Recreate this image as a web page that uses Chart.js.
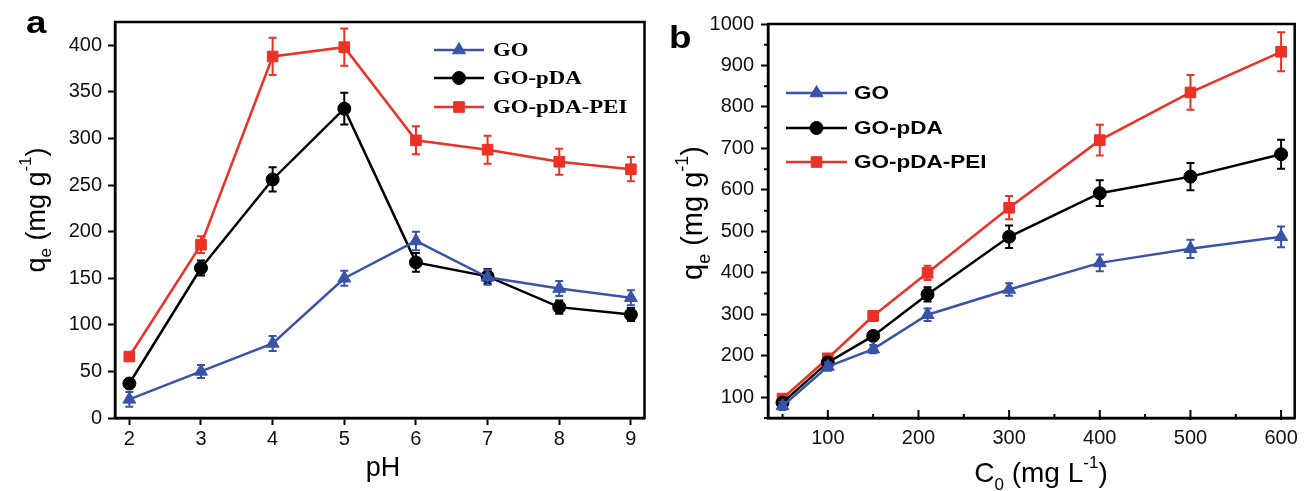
<!DOCTYPE html>
<html lang="en">
<head>
<meta charset="UTF-8">
<title>Adsorption capacity of GO, GO-pDA and GO-pDA-PEI</title>
<style>
  body { margin: 0; background: #fff; }
  #wrap { position: relative; width: 1306px; height: 491px; }
  .panel { position: absolute; top: 0; width: 653px; height: 491px; }
  #boxA { left: 0; }
  #boxB { left: 653px; }
</style>
<script src="https://cdn.jsdelivr.net/npm/chart.js"></script>
</head>
<body>
<div id="wrap">
  <div class="panel" id="boxA"><canvas id="chartA"></canvas></div>
  <div class="panel" id="boxB"><canvas id="chartB"></canvas></div>
</div>
<script>
  // ---- panel a : effect of pH ----
  const phValues = [2, 3, 4, 5, 6, 7, 8, 9];
  const goPH = [20, 50, 80, 150, 190, 151, 139, 129];
  const goPHErr = [8, 7, 8, 8, 10, 8, 8, 8];
  const pdaPH = [37, 161, 256, 332, 167, 152, 119, 111];
  const pdaPHErr = [5, 8, 13, 17, 10, 8, 7, 7];
  const peiPH = [66, 186, 388, 398, 298, 288, 275, 267];
  const peiPHErr = [4, 9, 20, 20, 15, 15, 14, 13];
  const phTicks = [2, 3, 4, 5, 6, 7, 8, 9];
  const qTicksA = [0, 50, 100, 150, 200, 250, 300, 350, 400];

  // ---- panel b : effect of initial concentration ----
  const c0Values = [50, 100, 150, 210, 300, 400, 500, 600];
  const goC0 = [79, 174, 216, 299, 360, 424, 458, 487];
  const goC0Err = [10, 10, 10, 15, 15, 20, 22, 25];
  const pdaC0 = [87, 184, 248, 348, 487, 592, 632, 686];
  const pdaC0Err = [8, 10, 10, 17, 27, 31, 33, 35];
  const peiC0 = [97, 194, 296, 400, 557, 720, 835, 933];
  const peiC0Err = [8, 8, 12, 17, 28, 37, 42, 47];
  const c0Ticks = [100, 200, 300, 400, 500, 600];
  const c0Minor = [50, 150, 250, 350, 450, 550];
  const qTicksB = [100, 200, 300, 400, 500, 600, 700, 800, 900, 1000];
  const qMinorB = [50, 150, 250, 350, 450, 550, 650, 750, 850, 950];

  const seriesNames = ['GO', 'GO-pDA', 'GO-pDA-PEI'];
  const BLUE = '#3953a8';
  const BLACK = '#000000';
  const RED = '#ec3127';
  const SANS = "'Liberation Sans', Arial, sans-serif";
  const SERIF = "'Liberation Serif', 'Times New Roman', serif";

  function pts(xs, ys) {
    return xs.map((x, i) => ({ x: x, y: ys[i] }));
  }

  function ds(label, xs, ys, errs, color, style, radius) {
    return {
      label: label,
      data: pts(xs, ys),
      errors: errs,
      borderColor: color,
      backgroundColor: color,
      borderWidth: 2.5,
      pointStyle: style,
      pointRadius: radius,
      pointHoverRadius: radius,
      pointBorderWidth: 1,
      tension: 0
    };
  }

  // error bars drawn right before each dataset
  const errorBars = {
    id: 'errorBars',
    beforeDatasetDraw(chart, args) {
      const d = chart.data.datasets[args.index];
      if (!d.errors) return;
      const xs = chart.scales.x, ys = chart.scales.y, ctx = chart.ctx;
      ctx.save();
      ctx.strokeStyle = d.borderColor;
      ctx.lineWidth = 2;
      d.data.forEach((p, i) => {
        const e = d.errors[i];
        const px = xs.getPixelForValue(p.x);
        const top = ys.getPixelForValue(p.y + e);
        const bot = ys.getPixelForValue(p.y - e);
        ctx.beginPath();
        ctx.moveTo(px, top); ctx.lineTo(px, bot);
        ctx.moveTo(px - 4, top); ctx.lineTo(px + 4, top);
        ctx.moveTo(px - 4, bot); ctx.lineTo(px + 4, bot);
        ctx.stroke();
      });
      ctx.restore();
    }
  };

  function drawRich(ctx, parts, cx, cy, angle, size, family) {
    ctx.save();
    ctx.translate(cx, cy);
    ctx.rotate(angle);
    ctx.fillStyle = '#000';
    ctx.textBaseline = 'alphabetic';
    ctx.textAlign = 'left';
    let total = 0;
    parts.forEach(p => {
      ctx.font = Math.round((p.s || 1) * size) + 'px ' + family;
      p.w = ctx.measureText(p.t).width;
      total += p.w;
    });
    let x = -total / 2;
    parts.forEach(p => {
      ctx.font = Math.round((p.s || 1) * size) + 'px ' + family;
      ctx.fillText(p.t, x, size * 0.36 + (p.dy || 0) * size);
      x += p.w;
    });
    ctx.restore();
  }

  // frame, minor ticks, legend, titles, panel letter
  const decor = {
    id: 'decor',
    afterDraw(chart, args, o) {
      const ctx = chart.ctx, a = chart.chartArea;
      const xs = chart.scales.x, ys = chart.scales.y;
      ctx.save();
      ctx.strokeStyle = '#000';
      ctx.lineWidth = 2.5;
      ctx.strokeRect(a.left, a.top, a.right - a.left, a.bottom - a.top);

      // minor and inward ticks
      ctx.lineWidth = 2;
      ctx.beginPath();
      (o.yMinor || []).forEach(v => {
        const py = ys.getPixelForValue(v);
        ctx.moveTo(a.left, py); ctx.lineTo(a.left - 4, py);
      });
      (o.xMinor || []).forEach(v => {
        const px = xs.getPixelForValue(v);
        ctx.moveTo(px, a.bottom); ctx.lineTo(px, a.bottom - 4);
      });
      (o.xInward || []).forEach(v => {
        const px = xs.getPixelForValue(v);
        ctx.moveTo(px, a.bottom + 2); ctx.lineTo(px, a.bottom - 8);
      });
      ctx.stroke();

      // legend
      const L = o.legend;
      chart.data.datasets.forEach((d, i) => {
        const y = L.y[i];
        ctx.strokeStyle = d.borderColor;
        ctx.fillStyle = d.borderColor;
        ctx.lineWidth = 2.5;
        ctx.beginPath();
        ctx.moveTo(L.x0, y); ctx.lineTo(L.x1, y);
        ctx.stroke();
        ctx.lineWidth = 1;
        Chart.helpers.drawPoint(ctx, {
          pointStyle: d.pointStyle, radius: d.pointRadius, borderWidth: 1, rotation: 0
        }, (L.x0 + L.x1) / 2, y);
        ctx.save();
        ctx.translate(L.tx, y);
        ctx.scale(L.stretch, 1);
        ctx.fillStyle = '#000';
        ctx.font = 'bold ' + L.size + 'px ' + L.family;
        ctx.textBaseline = 'middle';
        ctx.fillText(d.label, 0, 1);
        ctx.restore();
      });

      // axis titles
      drawRich(ctx, o.yTitle.parts, o.yTitle.x, o.yTitle.y, -Math.PI / 2, o.yTitle.size, SANS);
      drawRich(ctx, o.xTitle.parts, o.xTitle.x, o.xTitle.y, 0, o.xTitle.size, SANS);

      // panel letter
      ctx.save();
      ctx.translate(o.letter.x, o.letter.y);
      ctx.scale(1.15, 1);
      ctx.fillStyle = '#000';
      ctx.font = 'bold 32px ' + SANS;
      ctx.textBaseline = 'alphabetic';
      ctx.fillText(o.letter.t, 0, 0);
      ctx.restore();
      ctx.restore();
    }
  };

  function makeChart(id, datasets, cfg) {
    const tickFont = { family: SANS, size: 20 };
    return new Chart(document.getElementById(id), {
      type: 'line',
      data: { datasets: datasets },
      options: {
        responsive: true,
        maintainAspectRatio: false,
        animation: false,
        events: [],
        layout: { padding: { top: cfg.padTop, right: cfg.padRight, left: 0, bottom: 0 } },
        plugins: {
          legend: { display: false },
          tooltip: { enabled: false },
          decor: cfg.decor
        },
        scales: {
          x: {
            type: 'linear',
            min: cfg.xMin, max: cfg.xMax,
            afterBuildTicks: s => { s.ticks = cfg.xTicks.map(v => ({ value: v })); },
            afterFit: s => { s.height = 73; },
            border: { display: true, color: '#000', width: 2.5 },
            grid: { drawOnChartArea: false, drawTicks: cfg.xTickOut, tickLength: 7, tickWidth: 2, tickColor: '#000' },
            ticks: { font: tickFont, color: '#111', padding: cfg.xTickPad, maxRotation: 0, callback: v => String(v) }
          },
          y: {
            type: 'linear',
            min: cfg.yMin, max: cfg.yMax,
            afterBuildTicks: s => { s.ticks = cfg.yTicks.map(v => ({ value: v })); },
            afterFit: s => { s.width = 115; },
            border: { display: true, color: '#000', width: 2.5 },
            grid: { drawOnChartArea: false, drawTicks: true, tickLength: 7, tickWidth: 2, tickColor: '#000' },
            ticks: { font: tickFont, color: '#111', padding: cfg.yTickPad, callback: v => String(v) }
          }
        }
      },
      plugins: [errorBars, decor]
    });
  }

  makeChart('chartA', [
    ds(seriesNames[0], phValues, goPH, goPHErr, BLUE, 'triangle', 7.5),
    ds(seriesNames[1], phValues, pdaPH, pdaPHErr, BLACK, 'circle', 6.5),
    ds(seriesNames[2], phValues, peiPH, peiPHErr, RED, 'rect', 7.5)
  ], {
    padTop: 22, padRight: 8,
    xMin: 1.8, xMax: 9.19, xTicks: phTicks, xTickOut: true, xTickPad: 2,
    yMin: 0, yMax: 425, yTicks: qTicksA, yTickPad: 6,
    decor: {
      legend: { x0: 434, x1: 484, tx: 493, y: [50, 78, 107], size: 19, stretch: 1.2, family: SERIF },
      yTitle: { x: 35, y: 210, size: 27, parts: [
        { t: 'q' }, { t: 'e', s: 0.62, dy: 0.25 }, { t: ' (mg g' }, { t: '-1', s: 0.62, dy: -0.5 }, { t: ')' }
      ] },
      xTitle: { x: 383, y: 466, size: 27, parts: [{ t: 'pH' }] },
      letter: { t: 'a', x: 26, y: 33 }
    }
  });

  makeChart('chartB', [
    ds(seriesNames[0], c0Values, goC0, goC0Err, BLUE, 'triangle', 7.5),
    ds(seriesNames[1], c0Values, pdaC0, pdaC0Err, BLACK, 'circle', 6.5),
    ds(seriesNames[2], c0Values, peiC0, peiC0Err, RED, 'rect', 7.5)
  ], {
    padTop: 24, padRight: 5,
    xMin: 34, xMax: 615, xTicks: c0Ticks, xTickOut: false, xTickPad: 8,
    yMin: 50, yMax: 1000, yTicks: qTicksB, yTickPad: 7,
    decor: {
      yMinor: qMinorB, xMinor: c0Minor, xInward: c0Ticks,
      legend: { x0: 133, x1: 194, tx: 201, y: [93, 128, 162], size: 18, stretch: 1.25, family: SANS },
      yTitle: { x: 39, y: 213, size: 29, parts: [
        { t: 'q' }, { t: 'e', s: 0.62, dy: 0.25 }, { t: ' (mg g' }, { t: '-1', s: 0.62, dy: -0.5 }, { t: ')' }
      ] },
      xTitle: { x: 388, y: 472, size: 28, parts: [
        { t: 'C' }, { t: '0', s: 0.62, dy: 0.3 }, { t: ' (mg L' }, { t: '-1', s: 0.62, dy: -0.5 }, { t: ')' }
      ] },
      letter: { t: 'b', x: 16, y: 48 }
    }
  });
</script>
</body>
</html>
